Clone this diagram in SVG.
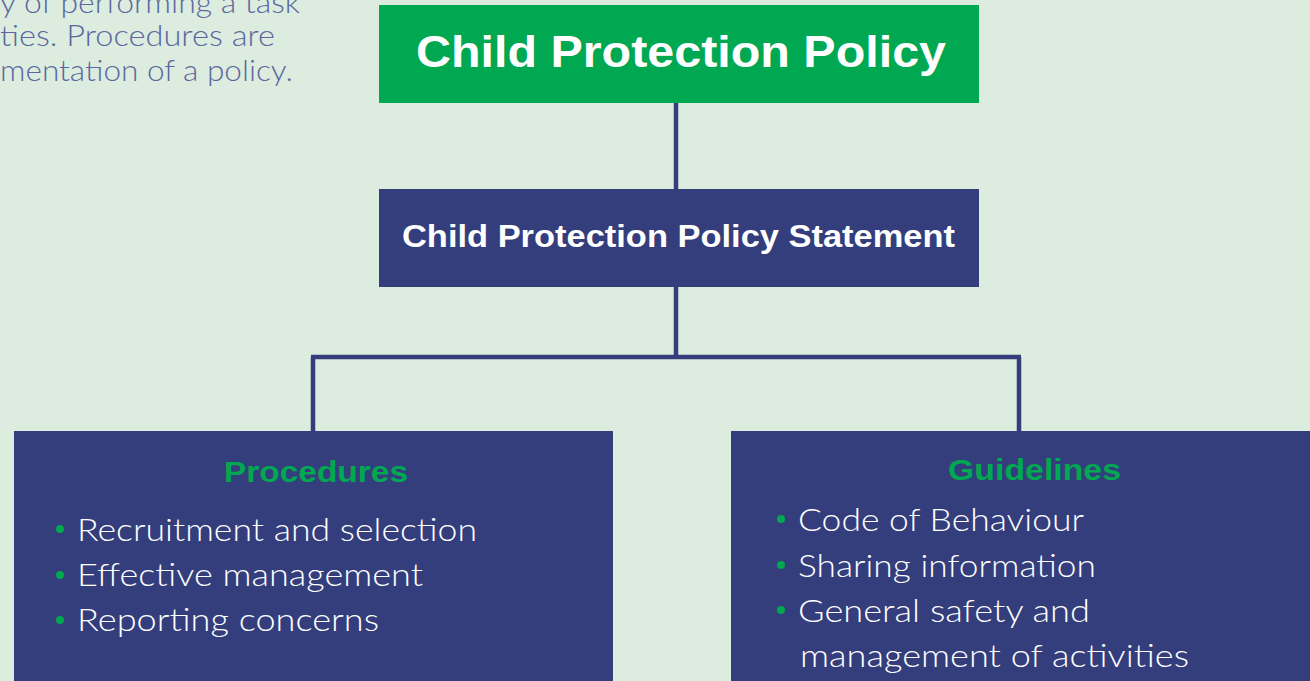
<svg xmlns="http://www.w3.org/2000/svg" width="1310" height="681" viewBox="0 0 1310 681">
<style>
.bg{fill:#DCECDF}
.green{fill:#00A851}
.navy{fill:#343E7C}
.title{font-family:"Liberation Sans",Arial,sans-serif;font-weight:bold;fill:#FFFFFF;text-anchor:middle}
.head{font-family:"Liberation Sans",Arial,sans-serif;font-weight:bold;fill:#00A851;text-anchor:middle;font-size:29px}
.item{font-family:Lato,"Open Sans",sans-serif;font-weight:300;fill:#FFFFFF;font-size:32px}
.dot{fill:#00A851}
.note{font-family:Lato,"Open Sans",sans-serif;font-weight:300;fill:#5A67A0;font-size:29px}
.conn{fill:none;stroke:#343E7C;stroke-width:4.5}
</style>
<rect class="bg" x="0" y="0" width="1310" height="681"/>
<g id="note">
<text class="note" x="0" y="13" textLength="300" lengthAdjust="spacingAndGlyphs">y of performing a task</text>
<text class="note" x="0" y="46" textLength="275" lengthAdjust="spacingAndGlyphs">ties.  Procedures are</text>
<text class="note" x="0" y="81" textLength="293" lengthAdjust="spacingAndGlyphs">mentation of a policy.</text>
</g>
<g id="connectors">
<path class="conn" d="M676 103 V189"/>
<path class="conn" d="M676 287 V357 M311 357 H1021 M313 357 V431 M1019 357 V431"/>
</g>
<g id="policy">
<rect class="green" x="379" y="5" width="600" height="98"/>
<text class="title" x="681" y="67" font-size="45" textLength="530" lengthAdjust="spacingAndGlyphs">Child Protection Policy</text>
</g>
<g id="statement">
<rect class="navy" x="379" y="189" width="600" height="98"/>
<text class="title" x="678.5" y="247" font-size="32" textLength="553" lengthAdjust="spacingAndGlyphs">Child Protection Policy Statement</text>
</g>
<g id="procedures">
<rect class="navy" x="14" y="431" width="599" height="260"/>
<text class="head" x="316" y="482" textLength="184" lengthAdjust="spacingAndGlyphs">Procedures</text>
<circle class="dot" cx="60" cy="529" r="4"/>
<text class="item" x="77" y="541" textLength="400" lengthAdjust="spacingAndGlyphs">Recruitment and selection</text>
<circle class="dot" cx="60" cy="575" r="4"/>
<text class="item" x="77" y="586" textLength="346" lengthAdjust="spacingAndGlyphs">Effective management</text>
<circle class="dot" cx="60" cy="620" r="4"/>
<text class="item" x="77" y="631" textLength="302" lengthAdjust="spacingAndGlyphs">Reporting concerns</text>
</g>
<g id="guidelines">
<rect class="navy" x="731" y="431" width="589" height="260"/>
<text class="head" x="1034.5" y="480" textLength="173" lengthAdjust="spacingAndGlyphs">Guidelines</text>
<circle class="dot" cx="781" cy="519" r="4"/>
<text class="item" x="798" y="531" textLength="286" lengthAdjust="spacingAndGlyphs">Code of Behaviour</text>
<circle class="dot" cx="781" cy="565" r="4"/>
<text class="item" x="798" y="577" textLength="298" lengthAdjust="spacingAndGlyphs">Sharing information</text>
<circle class="dot" cx="781" cy="610" r="4"/>
<text class="item" x="798" y="622" textLength="292" lengthAdjust="spacingAndGlyphs">General safety and</text>
<text class="item" x="800" y="667" textLength="389" lengthAdjust="spacingAndGlyphs">management of activities</text>
</g>
</svg>
